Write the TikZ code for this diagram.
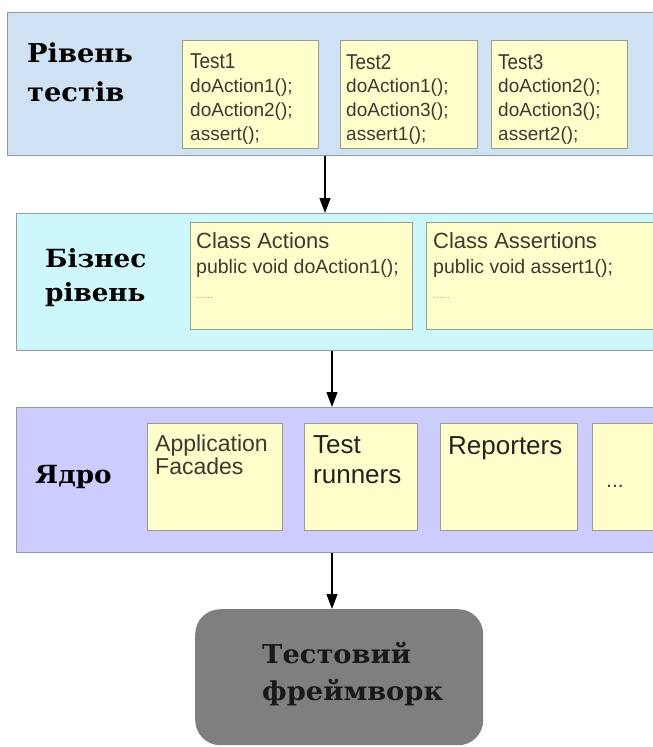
\documentclass[tikz,border=0pt]{standalone}
\usepackage{fontspec}
\setmainfont{Liberation Sans}
\newfontfamily\labfont[FakeStretch=1.05]{DejaVu Serif}
\newfontfamily\condfont[FakeStretch=0.88]{Liberation Sans}
\usetikzlibrary{arrows.meta}
\definecolor{lonecol}{HTML}{CFE2F3}
\definecolor{ltwocol}{HTML}{CCF8FC}
\definecolor{lthreecol}{HTML}{CCCCFF}
\definecolor{boxcol}{HTML}{FFFFCC}
\definecolor{boxedge}{HTML}{9A9C8C}
\definecolor{layedge}{HTML}{9A9A9A}
\definecolor{txtcol}{HTML}{3A3A32}
\definecolor{darktxt}{HTML}{222222}
\definecolor{fwcol}{HTML}{7F7F7F}
\newcommand\fsz[2]{\fontsize{#1bp}{#2bp}\selectfont}
\begin{document}
\begin{tikzpicture}[x=1bp,y=-1bp,
  layerbox/.style={draw=layedge, line width=1.2bp, anchor=north west, inner sep=0, minimum width=670bp},
  card/.style={draw=boxedge, fill=boxcol, line width=1.2bp, anchor=north west, inner sep=0},
  cardtext/.style={anchor=north west, inner sep=0, align=left, text=txtcol},
  lab/.style={anchor=north west, inner sep=0, align=left, text=black},
  arr/.style={line width=1.2bp, -{Triangle[length=15bp,width=11bp]}}]
\useasboundingbox (0,0) rectangle (653,747);
\clip (0,0) rectangle (653,747);

% layers
\node[layerbox, fill=lonecol, minimum height=143bp] (L1) at (7,12) {};
\node[layerbox, fill=ltwocol, minimum height=137bp] (L2) at (16,213) {};
\node[layerbox, fill=lthreecol, minimum height=145bp] (L3) at (16,407) {};

% layer labels
\node[lab, font=\labfont\bfseries\fsz{26}{38.5}] (lab1) at (27,43) {Рівень\\тестів};
\node[lab, font=\labfont\bfseries\fsz{25}{34}] (lab2) at (45,248) {Бізнес\\рівень};
\node[anchor=base west, inner sep=0, font=\labfont\bfseries\fsz{25}{28}] (lab3) at (35,483) {Ядро};

% tests level
\node[card, minimum width=136bp, minimum height=108bp] (t1) at (182,40) {};
\node[card, minimum width=137bp, minimum height=108bp] (t2) at (340,40) {};
\node[card, minimum width=136bp, minimum height=108bp] (t3) at (491,40) {};
\node[cardtext, font=\fsz{19}{23.7}] (t1txt) at (190,54)
  {{\condfont\fsz{21.5}{23.7}Test1}\\doAction1();\\doAction2();\\assert();};
\node[cardtext, font=\fsz{19}{23.7}] (t2txt) at (346,54)
  {{\condfont\fsz{21.5}{23.7}Test2}\\doAction1();\\doAction3();\\assert1();};
\node[cardtext, font=\fsz{19}{23.7}] (t3txt) at (498,54)
  {{\condfont\fsz{21.5}{23.7}Test3}\\doAction2();\\doAction3();\\assert2();};

% business level
\node[card, minimum width=222bp, minimum height=107bp] (ca) at (190,222) {};
\node[card, minimum width=240bp, minimum height=107bp] (cs) at (426,222) {};
\node[cardtext, font=\fsz{19.5}{25}] (catxt) at (196,232)
  {{\fsz{22}{25}Class Actions}\\public void doAction1();\\{\fsz{10}{25}\color{black!40}......}};
\node[cardtext, font=\fsz{19.5}{25}] (cstxt) at (433,232)
  {{\fsz{22}{25}Class Assertions}\\public void assert1();\\{\fsz{10}{25}\color{black!40}......}};

% core level
\node[card, minimum width=135bp, minimum height=107bp] (af) at (147,423) {};
\node[card, minimum width=113bp, minimum height=107bp] (tr) at (304,423) {};
\node[card, minimum width=137bp, minimum height=107bp] (rp) at (440,423) {};
\node[card, minimum width=80bp, minimum height=107bp] (dt) at (592,423) {};
\node[cardtext, font=\fsz{23}{23}] (aftxt) at (155,435) {Application\\Facades};
\node[cardtext, text=darktxt, font=\fsz{26}{30}] (trtxt) at (313,435) {Test\\runners};
\node[cardtext, text=darktxt, font=\fsz{26}{30}] (rptxt) at (448,436) {Reporters};
\node[anchor=base west, inner sep=0, text=txtcol, font=\fsz{21}{24}] (dttxt) at (606,487) {...};

% framework
\node[anchor=north west, inner sep=0, fill=fwcol, rounded corners=25bp,
      minimum width=288bp, minimum height=136bp] (fw) at (195,609) {};
\node[lab, text=black!90, font=\labfont\bfseries\fsz{26}{37}] (fwtxt) at (262,642) {Тестовий\\фреймворк};

% connectors
\coordinate (axa) at (325,0);
\coordinate (axb) at (332,0);
\draw[arr] (L1.south -| axa) -- (L2.north -| axa);
\draw[arr] (L2.south -| axb) -- (L3.north -| axb);
\draw[arr] (L3.south -| axb) -- (fw.north -| axb);
\end{tikzpicture}
\end{document}
